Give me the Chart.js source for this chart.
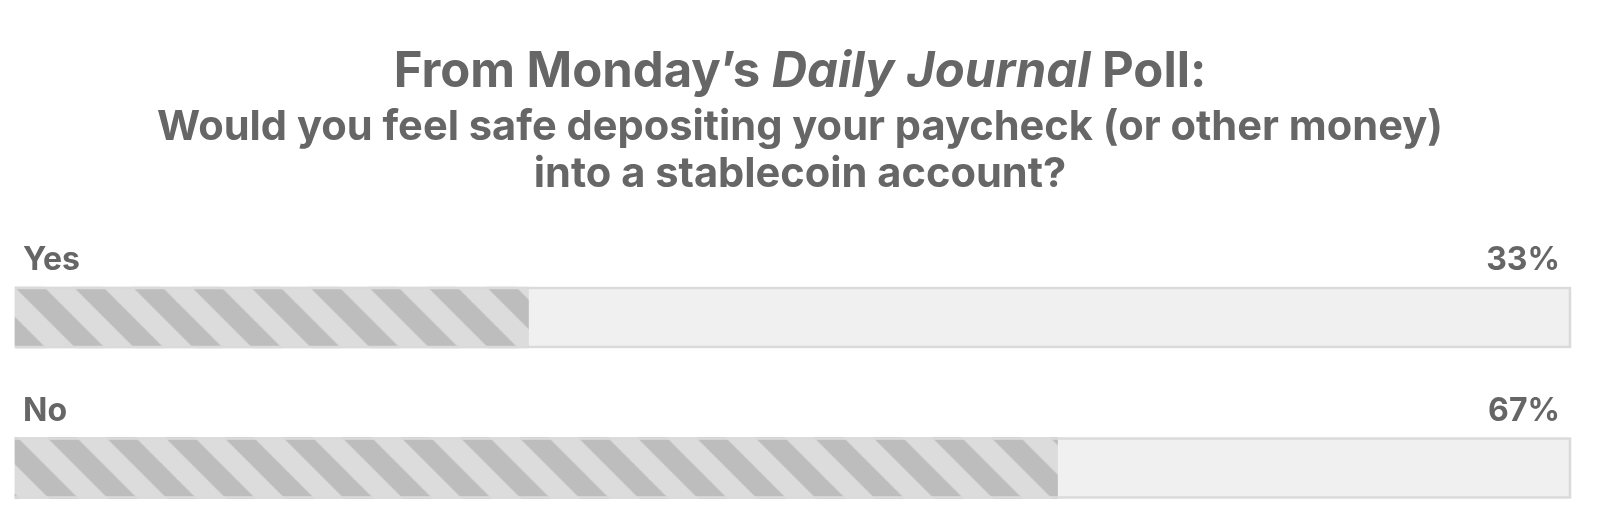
<!DOCTYPE html>
<html>
<head>
<meta charset="utf-8">
<script src="https://cdn.jsdelivr.net/npm/chart.js@4.4.1/dist/chart.umd.min.js"></script>
<style>
  html, body { margin: 0; padding: 0; background: #ffffff; }
  #wrap { position: relative; width: 1600px; height: 517px; }
</style>
</head>
<body>
<div id="wrap"><canvas id="c" width="1600" height="517"></canvas></div>
<script>
// ---- data ----
const categories = ["Yes", "No"];
const shareValues = [33, 67];
const trackValues = [100, 100];
const titleParts = [
  { text: "From Monday\u2019s ", italic: false },
  { text: "Daily Journal", italic: true },
  { text: " Poll:", italic: false }
];
const subtitleLines = [
  "Would you feel safe depositing your paycheck (or other money)",
  "into a stablecoin account?"
];

// ---- styles ----
const TEXT = "#666666";
const TITLE_FONT = "Inter";
const SUB_FONT = "Inter";
const STRIPE_P = 59;

function makeStripeTile() {
  const P = STRIPE_P;
  const tile = document.createElement("canvas");
  tile.width = P; tile.height = P;
  const t = tile.getContext("2d");
  t.fillStyle = "#dcdcdc";
  t.fillRect(0, 0, P, P);
  t.strokeStyle = "#bdbdbd";
  t.lineWidth = (P / 2) / Math.SQRT2;
  const a = 47;
  for (let k = -3; k <= 2; k++) {
    const c = a + k * P + P / 4;
    t.beginPath();
    t.moveTo(c - P, -P);
    t.lineTo(c + 2 * P, 2 * P);
    t.stroke();
  }
  return tile;
}
const stripeTile = makeStripeTile();
const cctx = document.getElementById("c").getContext("2d");
const stripePatterns = categories.map(() => cctx.createPattern(stripeTile, "repeat"));

const stripePlugin = {
  id: "stripeAlign",
  beforeDatasetsDraw(chart) {
    const meta = chart.getDatasetMeta(0);
    meta.data.forEach((bar, i) => {
      const top = bar.y - bar.height / 2;
      const pat = stripePatterns[i];
      pat.setTransform(new DOMMatrix().translate(0, top));
      bar.options.backgroundColor = pat;
    });
  }
};

const titlePlugin = {
  id: "headerText",
  afterDraw(chart) {
    const ctx = chart.ctx;
    ctx.save();
    ctx.fillStyle = TEXT;
    ctx.textBaseline = "alphabetic";
    const fonts = titleParts.map(p => (p.italic ? "italic " : "") + "700 49px " + TITLE_FONT);
    let total = 0;
    const widths = titleParts.map((p, i) => { ctx.font = fonts[i]; const w = ctx.measureText(p.text).width; total += w; return w; });
    let x = 800 - total / 2;
    ctx.textAlign = "left";
    titleParts.forEach((p, i) => { ctx.font = fonts[i]; ctx.fillText(p.text, x, 87); x += widths[i]; });
    ctx.textAlign = "center";
    ctx.font = "700 41.6px " + SUB_FONT;
    subtitleLines.forEach((s, i) => ctx.fillText(s, 800, 140 + i * 47));
    ctx.restore();
  }
};

const labelPlugin = {
  id: "barLabels",
  afterDatasetsDraw(chart) {
    const ctx = chart.ctx;
    const meta = chart.getDatasetMeta(0);
    const area = chart.chartArea;
    ctx.save();
    ctx.fillStyle = TEXT;
    ctx.font = "700 32px Inter";
    ctx.textBaseline = "alphabetic";
    meta.data.forEach((bar, i) => {
      const top = bar.y - bar.height / 2;
      ctx.textAlign = "left";
      ctx.fillText(categories[i], area.left + 8, top - 17);
      ctx.textAlign = "right";
      ctx.fillText(shareValues[i] + "%", area.right - 11, top - 17);
    });
    ctx.restore();
  }
};

new Chart(document.getElementById("c"), {
  type: "bar",
  data: {
    labels: categories,
    datasets: [
      { label: "share", data: shareValues, backgroundColor: "#dcdcdc", borderWidth: 0,
        order: 1, grouped: false, barThickness: 61, clip: false },
      { label: "outline", data: trackValues, backgroundColor: "rgba(0,0,0,0)", borderColor: "#dadada",
        borderWidth: 2, order: 0, grouped: false, barThickness: 61, clip: false },
      { label: "track", data: trackValues, backgroundColor: "#f0f0f0", borderWidth: 0,
        order: 2, grouped: false, barThickness: 61, clip: false }
    ]
  },
  options: {
    indexAxis: "y",
    responsive: false,
    animation: false,
    devicePixelRatio: 1,
    layout: { padding: { top: 317.5, bottom: 49, left: 15, right: 29 } },
    scales: {
      x: { display: false, min: 0, max: 100 },
      y: { display: false, offset: false }
    },
    plugins: { legend: { display: false }, tooltip: { enabled: false }, title: { display: false } }
  },
  plugins: [stripePlugin, titlePlugin, labelPlugin]
});
</script>
</body>
</html>
